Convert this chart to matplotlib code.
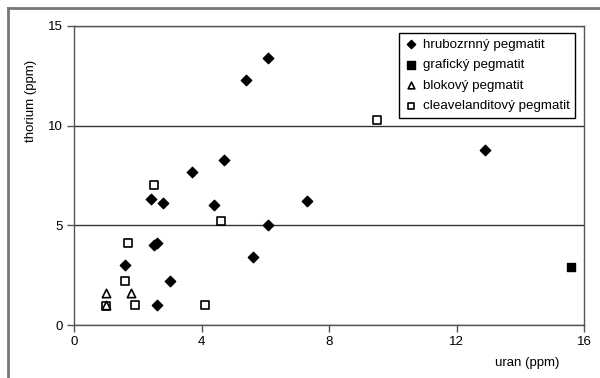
import matplotlib
matplotlib.use("Agg")
import matplotlib.pyplot as plt
from matplotlib.lines import Line2D

plt.rcParams['font.family'] = ['Liberation Sans', 'DejaVu Sans']

# data
hrub_x = [6.1, 5.4, 4.7, 3.7, 2.4, 2.8, 4.4, 7.3, 6.1, 2.6, 2.5, 1.6, 5.6, 3.0, 2.6, 12.9]
hrub_y = [13.4, 12.3, 8.3, 7.7, 6.3, 6.1, 6.0, 6.2, 5.0, 4.1, 4.0, 3.0, 3.4, 2.2, 1.0, 8.8]
graf_x = [15.6]
graf_y = [2.9]
blok_x = [1.0, 1.8, 1.0]
blok_y = [1.6, 1.6, 1.0]
clea_x = [9.5, 2.5, 4.6, 1.7, 1.6, 1.9, 4.1, 1.0]
clea_y = [10.3, 7.0, 5.2, 4.1, 2.2, 1.0, 1.0, 0.95]
labels = ['hrubozrnný pegmatit', 'grafický pegmatit', 'blokový pegmatit', 'cleavelanditový pegmatit']
xticks = [0, 4, 8, 12, 16]
yticks = [0, 5, 10, 15]

fig = plt.figure(figsize=(6.0, 3.78), dpi=100)
ax = fig.add_axes([74/600, 1-325/378, (584-74)/600, (325-26)/378])

ax.scatter(hrub_x, hrub_y, marker='D', s=28, c='black', label=labels[0], zorder=3)
ax.scatter(graf_x, graf_y, marker='s', s=40, c='black', label=labels[1], zorder=3)
ax.scatter(clea_x, clea_y, marker='s', s=36, facecolors='white', edgecolors='black', linewidths=1.2, label=labels[3], zorder=3)
ax.scatter(blok_x, blok_y, marker='^', s=36, facecolors='white', edgecolors='black', linewidths=1.2, label=labels[2], zorder=4)

ax.set_xlim(0, 16)
ax.set_ylim(0, 15)
ax.set_xticks(xticks)
ax.set_yticks(yticks)
ax.yaxis.grid(True, color='#333333', linewidth=1.0)
ax.set_axisbelow(True)
for s in ax.spines.values():
    s.set_color('#555555')
    s.set_linewidth(1.0)
ax.tick_params(axis='both', direction='out', length=5, width=1, color='#555555', labelsize=9.5, pad=3)

ax.set_xlabel('uran (ppm)', fontsize=9.5)
ax.xaxis.set_label_coords((527-74)/510, -(357-325)/299, transform=ax.transAxes)
ax.xaxis.label.set_ha('center')
ax.set_ylabel('thorium (ppm)', fontsize=9.5)
ax.yaxis.set_label_coords(-(74-37)/510, (325-101)/299)

handles, labs = ax.get_legend_handles_labels()
order = [labels.index(l) for l in labs]
hl = sorted(zip(order, handles, labs))
leg = ax.legend([h for _, h, _ in hl], [l for _, _, l in hl], loc='upper right',
                bbox_to_anchor=((575-74)/510, (325-33)/299), fontsize=9.6,
                frameon=True, fancybox=False, edgecolor='black', framealpha=1,
                handletextpad=0.4, borderpad=0.4, labelspacing=0.62, handlelength=1.0,
                borderaxespad=0, markerscale=0.8)
leg.get_frame().set_linewidth(1.0)

# outer frame (cropped)
fig.add_artist(Line2D([8/600, 8/600], [0, 1-8/378], color='#777777', linewidth=2, transform=fig.transFigure))
fig.add_artist(Line2D([8/600, 1], [1-8/378, 1-8/378], color='#777777', linewidth=2, transform=fig.transFigure))

fig.savefig('out.png', dpi=100)
